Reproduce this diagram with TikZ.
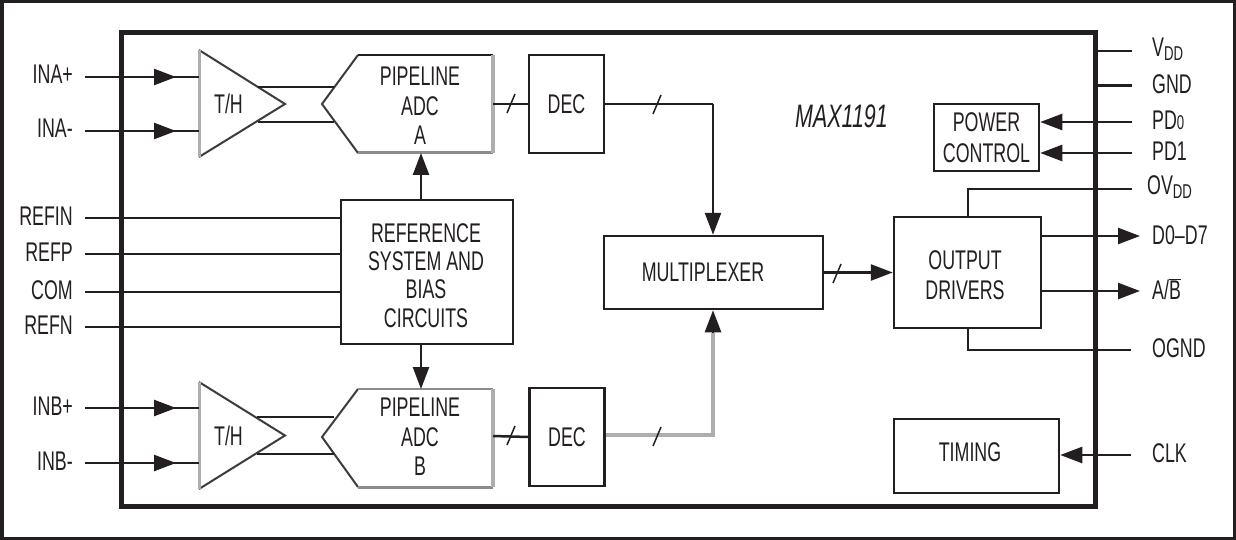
\documentclass[tikz,border=0pt]{standalone}
\usepackage{fontspec}
\setmainfont{Liberation Sans}[FakeStretch=0.66]
\usetikzlibrary{arrows.meta,calc}
\definecolor{ink}{HTML}{231F20}
\definecolor{lgray}{HTML}{AEAEAE}
\definecolor{mgray}{HTML}{8C8C8C}
\definecolor{dgray}{HTML}{3C3C3C}
\newcommand\lowsub[1]{\raisebox{-4pt}{\fontsize{20}{20}\selectfont #1}}
\newcommand\smallfig[1]{{\fontsize{20}{20}\selectfont #1}}
\begin{document}
\begin{tikzpicture}[x=1pt,y=-1pt,
  every node/.style={font=\fontsize{27}{29.5}\selectfont, text=ink, inner sep=0pt, align=center},
  blk/.style={draw=ink, line width=2.5pt},
  wire/.style={draw=ink, line width=2.5pt},
  tip/.style={-{Triangle[length=22pt,width=16pt]}},
  slash/.style={draw=ink, line width=1.5pt},
  gwire/.style={draw=lgray, line width=4pt},
  pin/.style={anchor=west},
  lpin/.style={anchor=east}]
\useasboundingbox (0,0) rectangle (1236,540);
\fill[white] (0,0) rectangle (1236,540);
\draw[ink, line width=3.5pt] (1.75,1.75) rectangle (1234.25,538.25);

% ---------- blocks ----------
\node[blk, minimum width=75pt, minimum height=98pt] (decA) at (566.5,104) {DEC};
\node[blk, minimum width=75pt, minimum height=98pt] (decB) at (567,437) {DEC};
\node[blk, minimum width=219pt, minimum height=73pt] (mux) at (713.5,272.5) {};
\node (muxt) at (703,272) {MULTIPLEXER};
\node[blk, minimum width=147pt, minimum height=111pt] (out) at (967.5,272.5) {};
\node[font=\fontsize{27}{30}\selectfont] (outt) at (965,275) {OUTPUT\\DRIVERS};
\node[blk, minimum width=105pt, minimum height=67pt, font=\fontsize{27}{31}\selectfont] (pwr) at (986.5,137.5) {POWER\\CONTROL};
\node[blk, minimum width=165pt, minimum height=74pt] (tim) at (976.5,456) {};
\node (timt) at (970,452) {TIMING};
\node[blk, minimum width=172pt, minimum height=144pt] (ref) at (427,272) {};
\node[font=\fontsize{27}{28.2}\selectfont] (reft) at (426,275.5) {REFERENCE\\SYSTEM AND\\BIAS\\CIRCUITS};
\node[font=\itshape\fontsize{32.5}{34}\selectfont] (chipname) at (841.5,116.5) {MAX1191};

% ---------- pipeline ADC A ----------
\coordinate (pAtl) at (358,55); \coordinate (pAtr) at (493,55);
\coordinate (pAbr) at (493,153); \coordinate (pAbl) at (358,153);
\coordinate (pAl) at (322,104);
\draw[dgray, line width=2pt] (pAtl) -- (pAl) -- (pAbl);
\draw[ink, line width=2.5pt] (pAtl) -- (pAtr);
\draw[mgray, line width=3pt] (pAbl) -- (pAbr);
\draw[lgray, line width=4.5pt] (pAtr) -- (pAbr);
\node (pAt) at (420,106) {PIPELINE\\ADC\\A};
\coordinate (pAbot) at (421,153);
\coordinate (pAout) at (493,104);

% ---------- pipeline ADC B ----------
\coordinate (pBtl) at (358,389); \coordinate (pBtr) at (493,389);
\coordinate (pBbr) at (493,487); \coordinate (pBbl) at (358,487);
\coordinate (pBl) at (322,437);
\draw[dgray, line width=2pt] (pBtl) -- (pBl) -- (pBbl);
\draw[mgray, line width=2.5pt] (pBtl) -- (pBtr);
\draw[mgray, line width=3pt] (pBbl) -- (pBbr);
\draw[lgray, line width=4.5pt] (pBtr) -- (pBbr);
\node (pBt) at (420,437) {PIPELINE\\ADC\\B};
\coordinate (pBtop) at (421,389);
\coordinate (pBout) at (493,436);

% ---------- T/H A ----------
\coordinate (tAt) at (199,50); \coordinate (tAb) at (199,157); \coordinate (tAo) at (285,104);
\draw[dgray, line width=2pt] (tAt) -- (tAo) -- (tAb);
\draw[lgray, line width=3pt] (tAt) -- (tAb);
\node (thAt) at (228.5,104) {T/H};
% ---------- T/H B ----------
\coordinate (tBt) at (199,382); \coordinate (tBb) at (199,489); \coordinate (tBo) at (285,435.5);
\draw[dgray, line width=2pt] (tBt) -- (tBo) -- (tBb);
\draw[lgray, line width=3pt] (tBt) -- (tBb);
\node (thBt) at (228.5,435.5) {T/H};

% T/H to pipeline links
\coordinate (a1) at (258,87);  \coordinate (a2) at (334,87);
\coordinate (a3) at (258,122); \coordinate (a4) at (334,122);
\coordinate (b1) at (257,417); \coordinate (b2) at (334,417);
\coordinate (b3) at (257,454); \coordinate (b4) at (334,454);
\draw[wire] (a1) -- (a2); \draw[wire] (a3) -- (a4);
\draw[wire] (b1) -- (b2); \draw[wire] (b3) -- (b4);

% ---------- chip outline ----------
\draw[ink, line width=5pt] (121.5,33) rectangle (1095,506.5);

% ---------- left pins ----------
\node[lpin] (lINAp) at (73,74) {INA+};
\node[lpin] (lINAm) at (73,128) {INA-};
\node[lpin] (lREFIN) at (73,216) {REFIN};
\node[lpin] (lREFP) at (73,252) {REFP};
\node[lpin] (lCOM) at (73,290) {COM};
\node[lpin] (lREFN) at (73,325) {REFN};
\node[lpin] (lINBp) at (73,406) {INB+};
\node[lpin] (lINBm) at (73,461) {INB-};

\coordinate (inap) at (85,77);  \coordinate (inapT) at (199,77);  \coordinate (inapA) at (176,77);
\coordinate (inam) at (85,131); \coordinate (inamT) at (199,131); \coordinate (inamA) at (176,131);
\coordinate (inbp) at (85,408); \coordinate (inbpT) at (199,408); \coordinate (inbpA) at (176,408);
\coordinate (inbm) at (85,463); \coordinate (inbmT) at (199,463); \coordinate (inbmA) at (176,463);
\foreach \p in {inap,inam,inbp,inbm}{
  \draw[wire] (\p) -- (\p T);
  \draw[wire,tip] (\p) -- (\p A);
}
\coordinate (refin) at (85,218); \coordinate (refp) at (85,254);
\coordinate (com) at (85,292);   \coordinate (refn) at (85,327);
\foreach \p in {refin,refp,com,refn}{
  \draw[wire] (\p) -- (\p -| ref.west);
}

% reference to pipelines
\draw[wire,tip] (ref.north -| pAbot) -- (pAbot);
\draw[wire,tip] (ref.south -| pBtop) -- (pBtop);

% ---------- buses ----------
\draw[wire] (pAout) -- (decA.west);
\draw[slash] (507,113) -- (515,94);
\coordinate (busAc) at (713,104);
\draw[wire] (decA.east) -- (busAc);
\draw[wire,tip] (busAc) -- (mux.north -| busAc);
\draw[slash] (653,114) -- (661,95);

\draw[wire] (pBout) -- (decB.west);
\draw[slash] (507,445) -- (515,426);
\coordinate (busBc) at (713,435);
\coordinate (busBa) at (713,333);
\draw[gwire] (decB.east |- busBc) -- (busBc) -- (busBa);
\draw[wire,tip] (busBa) -- (mux.south -| busBa);
\draw[slash] (653,446) -- (661,427);

\draw[wire,tip] (mux.east |- out.west) -- (out.west);
\draw[slash] (833,283) -- (841,264);

% ---------- right pins ----------
\node[pin] (rVDD) at (1152,49) {V\lowsub{DD}};
\node[pin] (rGND) at (1152,84) {GND};
\node[pin] (rPD0) at (1152,120) {PD\smallfig{0}};
\node[pin] (rPD1) at (1152,151) {PD1};
\node[pin] (rOVDD) at (1147,187) {OV\lowsub{DD}};
\node[pin] (rD) at (1152,235) {D0\textendash D7};
\node[pin] (rAB) at (1152,289) {A/$\overline{\mbox{B}}$};
\node[pin] (rOGND) at (1152,348) {OGND};
\node[pin] (rCLK) at (1152,453) {CLK};

\coordinate (vdd) at (1132,51);  \draw[wire] (vdd) -- (1095,51);
\coordinate (gnd) at (1132,86);  \draw[wire, line width=3pt] (gnd) -- (1095,86);
\coordinate (pd0) at (1132,122); \draw[wire,tip] (pd0) -- (pd0 -| pwr.east);
\coordinate (pd1) at (1132,153); \draw[wire,tip] (pd1) -- (pd1 -| pwr.east);
\coordinate (ovdd) at (1132,189); \draw[wire] (out.north -| 968,0) -- (968,189) -- (ovdd);
\coordinate (ognd) at (1131,350); \draw[wire] (out.south -| 968,0) -- (968,350) -- (ognd);
\coordinate (dpin) at (1140,236); \draw[wire,tip] (dpin -| out.east) -- (dpin);
\coordinate (abpin) at (1140,291); \draw[wire,tip] (abpin -| out.east) -- (abpin);
\coordinate (clk) at (1131,455); \draw[wire,tip] (clk) -- (clk -| tim.east);
\end{tikzpicture}
\end{document}
